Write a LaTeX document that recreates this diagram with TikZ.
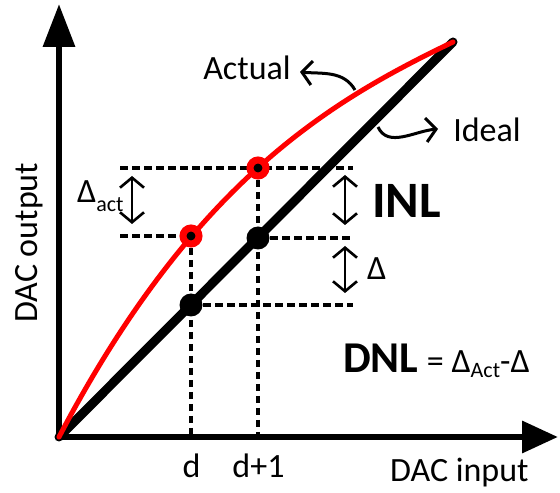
\documentclass[tikz,border=0pt]{standalone}
\usepackage{fontspec}
\setmainfont{Carlito}
\usepackage{xcolor}
\usepackage{tikz}
\usetikzlibrary{arrows.meta, positioning, calc}
\definecolor{ActualRed}{RGB}{255,0,0}
\newcommand{\lowsub}[2][7pt]{\raisebox{-#1}{\fontsize{22}{22}\selectfont #2}}
\tikzset{
  >={Straight Barb[length=10pt,width=24pt]},  % frecce aperte
  % assi
  axis line/.style={line width=6.5pt,line join=round},
  % curve
  ideal line/.style={line width=9pt,line cap=round},
  actual line/.style={ActualRed,line width=5pt,line cap=round},
  % punti
  dot ideal/.style={circle,fill=black,minimum size=23pt,inner sep=0},
  dot actual/.style={circle,fill=black,draw=ActualRed,line width=7pt,minimum size=16pt,inner sep=0},
  % riferimenti e quote
  guide/.style={dash pattern=on 7.5pt off 4.5pt,line width=3.6pt},
  span/.style={<->,line width=2.6pt},
  pointer/.style={->,line width=3pt},
  % testi
  txt/.style={font=\fontsize{34}{40}\selectfont,inner sep=0},
  big txt/.style={font=\bfseries\fontsize{51}{56}\selectfont,inner sep=0}
}
\begin{document}
\begin{tikzpicture}[x=1pt,y=1pt]
  \useasboundingbox (0,0) rectangle (560,493);
  \coordinate (o) at (59,56);
  \coordinate (ytop) at (59,489);
  \coordinate (xend) at (558,56);
  \coordinate (t) at (453,451);
  \coordinate (c1) at (191,257);
  \coordinate (c2) at (258,325);
  \coordinate (e1) at (191,188);
  \coordinate (e2) at (258,255);
  \coordinate (gl) at (120,0);
  \coordinate (gr) at (353,0);
  \coordinate (sl) at (132,0);
  \coordinate (sr) at (345,0);
  % tratteggi
  \draw[guide] (c2 -| gl) -- (c2 -| gr);
  \draw[guide] (c1 -| gl) -- (c1);
  \draw[guide] (e2) -- (e2 -| gr);
  \draw[guide] (e1) -- (e1 -| gr);
  \draw[guide] (c1) -- (c1 |- o);
  \draw[guide] (c2) -- (c2 |- o);
  % assi
  \draw[axis line,{Triangle[length=43pt,width=31pt]}-{Triangle[length=36pt,width=31pt]}]
    (ytop) -- (o) -- (xend);
  % caratteristiche
  \draw[ideal line] (o) -- (t);
  \draw[actual line] (o) .. controls (194,313.5) and (333,393.4) .. (t);
  \node[dot ideal] (i1) at (e1) {};
  \node[dot ideal] (i2) at (e2) {};
  \node[dot actual] (a1) at (c1) {};
  \node[dot actual] (a2) at (c2) {};
  % quote
  \draw[span] ($(c2 -| sl)+(0,-8)$) -- ($(c1 -| sl)+(0,12)$);
  \draw[span] ($(c2 -| sr)+(0,-7)$) -- ($(e2 -| sr)+(0,13)$);
  \draw[span] ($(e2 -| sr)+(0,-8)$) -- ($(e1 -| sr)+(0,12)$);
  % richiami
  \coordinate (ta) at (355,403);
  \coordinate (ha) at (300,421);
  \coordinate (ti) at (378,366);
  \coordinate (hi) at (438,364);
  \draw[pointer] (ta) to[out=120,in=-5] (ha);
  \draw[pointer] (ti) to[out=-65,in=185] (hi);
  % testi
  \node[txt,anchor=base] (lblactual) at (247,413) {Actual};
  \node[txt,anchor=base] (lblideal) at (487,351) {Ideal};
  \node[big txt,anchor=base west] (lblinl) at (372,275) {INL};
  \node[txt,anchor=base west] (lbldelta) at (367,213) {Δ};
  \node[txt,anchor=base west] (lbldact) at (77,290) {Δ\lowsub[9pt]{act}};
  \node[txt,anchor=base] (lbld) at (191.5,16) {d};
  \node[txt,anchor=base] (lbldd) at (258.5,16) {d+1};
  \node[txt,anchor=base west] (lblx) at (390,11) {DAC input};
  \node[txt,rotate=90,anchor=base west] (lbly) at (37,170) {DAC output};
  \node[anchor=base west,inner sep=0,font=\bfseries\fontsize{44}{48}\selectfont] (dnl) at (343,120) {DNL};
  \node[txt,anchor=base west] (dnleq) at ([xshift=8pt]dnl.base east) {= Δ\lowsub[5pt]{Act}-Δ};
\end{tikzpicture}
\end{document}
